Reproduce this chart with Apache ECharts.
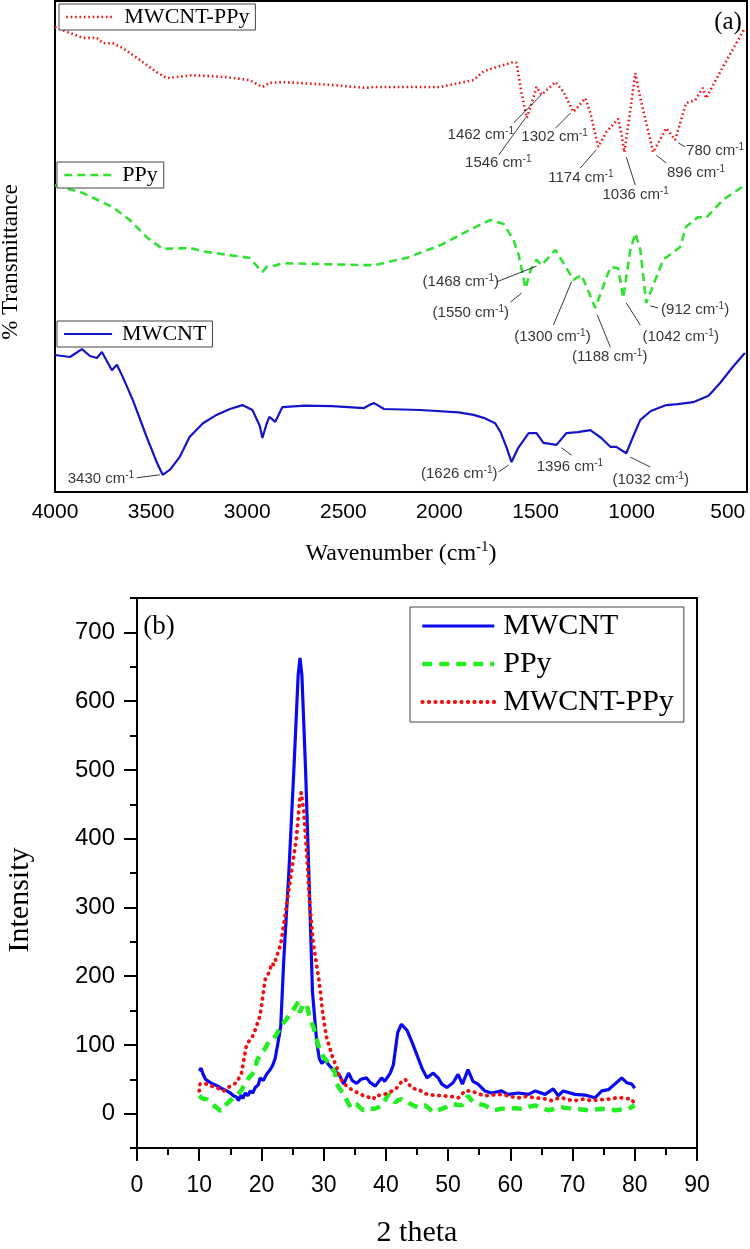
<!DOCTYPE html>
<html><head><meta charset="utf-8">
<script src="https://cdn.jsdelivr.net/npm/echarts@6/dist/echarts.min.js"></script>
<style>html,body{margin:0;padding:0;background:#fff}#c{width:750px;height:1249px}</style>
</head><body><div id="c"></div>
<script>
// ---------- (a) FTIR : [wavenumber, relative transmittance (offset, arbitrary units)] ----------
const ftirMWCNTPPy = [[4000,94.7],[3938,93.7],[3855,92.5],[3782,92.5],[3751,91.4],[3699,91.4],[3647,90.4],[3559,88.0],[3471,85.5],[3419,84.3],[3284,84.9],[3108,84.5],[2989,83.9],[2921,82.5],[2885,83.3],[2817,83.5],[2558,82.9],[2382,82.3],[2340,82.5],[1993,82.5],[1822,83.9],[1770,85.7],[1614,87.6],[1599,87.4],[1573,81.3],[1546,76.2],[1526,78.4],[1495,82.5],[1469,80.9],[1396,83.5],[1355,81.5],[1303,77.4],[1241,80.2],[1215,77.2],[1174,70.3],[1132,73.3],[1070,76.0],[1054,73.1],[1038,69.2],[1007,77.8],[981,85.3],[955,80.2],[940,77.8],[888,69.2],[820,74.1],[774,71.7],[717,79.2],[670,79.8],[629,82.3],[613,80.2],[525,86.6],[411,94.5]];
const ftirPPy = [[4000,62.5],[3855,60.9],[3699,58.0],[3611,55.4],[3523,51.9],[3440,49.5],[3300,49.7],[3212,48.9],[2989,47.7],[2921,44.8],[2900,45.8],[2849,46.2],[2817,46.6],[2382,46.2],[2340,46.2],[2169,47.7],[1993,50.3],[1822,53.8],[1734,55.4],[1666,54.6],[1614,51.3],[1588,48.3],[1552,41.5],[1526,45.2],[1495,47.3],[1469,46.2],[1396,49.3],[1303,43.2],[1261,44.2],[1189,37.5],[1111,45.8],[1070,45.6],[1044,39.5],[1007,49.3],[981,52.7],[955,49.3],[924,38.5],[836,47.3],[748,49.9],[717,54.0],[655,56.0],[613,55.8],[525,59.5],[411,62.5]];
const ftirMWCNT = [[4000,27.9],[3922,27.5],[3860,29.1],[3818,27.7],[3782,27.3],[3756,28.5],[3704,24.8],[3678,25.9],[3647,23.4],[3595,18.7],[3523,11.2],[3470,6.0],[3440,3.5],[3400,4.6],[3352,7.1],[3300,11.2],[3230,14.0],[3160,15.7],[3090,16.9],[3025,17.7],[2973,16.7],[2935,13.5],[2921,11.0],[2900,13.8],[2885,15.3],[2854,14.3],[2817,17.3],[2700,17.6],[2558,17.5],[2392,17.1],[2366,17.7],[2340,18.1],[2288,16.9],[2100,16.7],[1900,16.2],[1822,15.7],[1770,15.1],[1710,14.0],[1682,12.2],[1650,9.0],[1625,6.1],[1590,9.0],[1536,12.0],[1495,12.0],[1459,10.0],[1391,9.6],[1339,12.0],[1280,12.2],[1215,12.6],[1158,11.0],[1111,9.2],[1080,9.2],[1028,7.9],[990,11.5],[955,14.7],[900,16.5],[820,17.7],[760,17.9],[680,18.3],[600,19.6],[540,22.2],[473,25.5],[411,28.3]];
const ftirTicks = [4000,3500,3000,2500,2000,1500,1000,500];
// peak notes: text, paren, label centre [w,v], leader from [w,v] to [w,v]
const ftirNotes = [
  {t:'1462',p:false,at:[1785,72.7],a:[1614,75.2],b:[1469,80.9]},
  {t:'1546',p:false,at:[1694,67.0],a:[1692,68.6],b:[1552,76.2]},
  {t:'1302',p:false,at:[1401,72.3],a:[1396,74.1],b:[1318,77.2]},
  {t:'1174',p:false,at:[1264,64.0],a:[1267,66.0],b:[1184,69.7]},
  {t:'1036',p:false,at:[979,60.5],a:[981,62.5],b:[1028,68.2]},
  {t:'896',p:false,at:[665,65.0],a:[820,67.0],b:[872,68.6]},
  {t:'780',p:false,at:[566,69.5],a:[722,70.3],b:[758,71.1]},
  {t:'1468',p:true,at:[1889,42.8],a:[1702,42.8],b:[1495,46.0]},
  {t:'1550',p:true,at:[1837,36.5],a:[1630,38.7],b:[1573,40.5]},
  {t:'1300',p:true,at:[1412,31.6],a:[1407,34.0],b:[1313,42.8]},
  {t:'1188',p:true,at:[1114,27.5],a:[1111,29.5],b:[1178,36.0]},
  {t:'1042',p:true,at:[745,31.6],a:[955,34.0],b:[1028,38.5]},
  {t:'912',p:true,at:[670,37.1],a:[903,37.9],b:[862,37.5]},
  {t:'3430',p:false,at:[3761,2.6],a:[3575,2.9],b:[3455,3.5]},
  {t:'1626',p:true,at:[1897,3.7],a:[1692,4.1],b:[1640,5.5]},
  {t:'1396',p:false,at:[1321,5.1],a:[1313,7.5],b:[1365,9.0]},
  {t:'1032',p:true,at:[901,2.4],a:[903,5.1],b:[1007,7.1]}
];

// ---------- (b) XRD : [2theta, intensity] ----------
const xrdMWCNT = [[10,62],[10.3,66],[10.6,58],[11,50],[11.5,47],[12,44],[12.5,42],[13,40],[13.5,37],[14,35],[14.4,33],[15,30],[15.5,26],[16,24],[16.3,19],[16.7,27],[17,22],[17.4,30],[17.8,26],[18.2,33],[18.6,30],[19,38],[19.5,42],[19.8,52],[20.3,48],[20.8,57],[21.4,64],[21.8,70],[22.2,80],[22.6,100],[23.1,127],[23.6,226],[24.4,350],[25.2,498],[25.9,638],[26.2,663],[26.5,638],[27.1,498],[27.7,326],[28.2,177],[28.9,103],[29.3,80],[29.7,73],[30.2,78],[30.9,70],[31.5,64],[32.1,60],[32.6,55],[33.2,43],[34,59],[34.6,48],[35.3,44],[36,50],[36.9,52],[37.5,45],[38.3,40],[39.3,52],[39.8,47],[40.7,59],[41.2,71],[41.9,118],[42.5,130],[43.4,121],[44.2,104],[45,85],[45.8,66],[46.6,52],[47.6,59],[48.4,52],[49,43],[49.8,38],[50.8,45],[51.6,57],[52.3,43],[53.2,64],[54,47],[54.8,43],[55.9,33],[57,30],[58.6,33],[59.6,28],[61.3,30],[62.9,28],[64,33],[65.6,28],[66.9,36],[67.7,26],[68.5,33],[70.4,28],[72,27],[73.6,23],[74.7,33],[75.8,35],[76.8,43],[77.9,52],[78.7,45],[79.5,43],[80,37]];
const xrdPPy = [[10,26],[10.5,22],[11.2,21],[11.8,16],[12.3,12],[12.9,8],[13.4,4],[13.9,9],[14.4,14],[15,19],[15.6,24],[16.2,28],[16.7,33],[17.3,42],[17.8,50],[18.4,56],[18.9,62],[19.3,78],[19.8,85],[20.4,92],[20.9,100],[21.4,107],[22,109],[22.6,118],[23.1,127],[24,137],[24.8,147],[25.4,155],[25.9,162],[26.2,147],[26.7,160],[27.3,157],[27.8,138],[28.4,125],[28.9,107],[29.4,92],[30,82],[30.4,78],[31,72],[31.8,60],[32.1,43],[32.6,36],[33.2,29],[33.8,18],[34.3,9],[34.8,12],[35.3,14],[35.8,9],[36.4,5],[37.2,8],[38,7],[38.8,9],[39.3,12],[39.9,20],[40.4,28],[40.9,25],[41.5,16],[42,20],[42.5,21],[43.1,18],[43.6,16],[44.4,12],[45.2,9],[46.3,12],[47,7],[47.6,2],[48.3,5],[49,7],[49.8,10],[50.6,14],[51.4,13],[52.2,12],[52.7,18],[53.2,26],[53.7,20],[54.3,16],[55,14],[55.9,12],[56.7,8],[57.5,5],[58.5,7],[59.6,7],[60.7,8],[61.8,7],[63,10],[64,12],[65,8],[66.1,5],[67.2,7],[68.3,9],[69.3,8],[70.4,7],[71.5,6],[72.5,5],[73.6,6],[74.7,7],[75.8,6],[76.8,5],[77.9,6],[79,7],[80,12]];
const xrdMWCNTPPy = [[10,33],[10.1,43],[10.6,44],[11.2,43],[12,40],[12.8,38],[13.4,35],[13.9,33],[14.5,37],[15,40],[16,45],[16.8,59],[17.2,80],[17.6,100],[18.2,108],[18.7,114],[19.3,130],[19.8,143],[20.2,170],[20.6,195],[21.2,205],[21.7,219],[22,216],[22.5,230],[23.1,246],[24,300],[24.8,350],[25.6,400],[26,440],[26.2,460],[26.4,467],[26.8,440],[27.3,376],[27.8,300],[28.3,250],[28.7,226],[29.3,191],[29.8,150],[30.4,113],[31,95],[31.5,80],[32,70],[32.6,53],[33.2,44],[34,38],[34.8,33],[35.6,30],[36.4,26],[37.2,24],[38,21],[38.3,26],[39.3,27],[40.4,30],[41,33],[41.7,37],[42.4,45],[43.1,50],[43.6,44],[44.2,37],[45.3,35],[46.3,29],[47.5,27],[49,26],[50.5,25],[51.7,23],[52.7,33],[53.8,33],[54.8,29],[55.9,26],[57,27],[58.6,28],[60,25],[61.3,23],[62.5,25],[64,23],[65.3,22],[66.6,19],[67.5,22],[68.3,23],[69.3,20],[70.4,19],[71.7,21],[73,19],[74.3,20],[75.8,21],[77,23],[77.9,23],[78.8,22],[79.5,21],[80,14]];
const xrdYTicks = [0,100,200,300,400,500,600,700];
const xrdYMinorTicks = [-50,50,150,250,350,450,550,650,750];

const SERIF = '"Liberation Serif","Times New Roman",serif';
const SANS = '"Liberation Sans",Arial,sans-serif';
const C_A = {blue:'#1515c8', green:'#33e033', red:'#e81818'};
const C_B = {blue:'#0a0af0', green:'#22ee22', red:'#ee1111'};

const styleA = {
  'MWCNT-PPy': {color:C_A.red, width:2.6, type:[1.6,2.8]},
  'PPy': {color:C_A.green, width:2.6, type:[8,5]},
  'MWCNT': {color:C_A.blue, width:2.2}
};
const styleB = {
  'MWCNT': {color:C_B.blue, width:3.2, type:'solid'},
  'PPy': {color:C_B.green, width:4.5, type:[10,7]},
  'MWCNT-PPy': {color:C_B.red, width:3.8, type:[0.5,6], cap:'round'}
};
const HIDDEN_SYMBOL = {color:'rgba(0,0,0,0)', borderColor:'rgba(0,0,0,0)', borderWidth:0, opacity:0};

const noteRich = {
  n:{fontSize:15, fontFamily:SANS, color:'#000', lineHeight:18},
  s:{fontSize:10, fontFamily:SANS, color:'#000', lineHeight:10, verticalAlign:'top'}
};
function noteText(n){ return n.p ? '{n|(' + n.t + ' cm}{s|-1}{n|)}' : '{n|' + n.t + ' cm}{s|-1}'; }

const chart = echarts.init(document.getElementById('c'), null, {renderer:'canvas'});

function lineSeries(name, data, st, xi, yi){
  return {type:'line', name, data, xAxisIndex:xi, yAxisIndex:yi, symbol:'none', silent:true, animation:false,
    lineStyle:{color:st.color, width:st.width, type:st.type||'solid', cap:st.cap||'butt'}, itemStyle:{color:st.color}, z:3};
}
function legendA(name, left, top){
  const st = styleA[name];
  return {show:true, left, top, orient:'horizontal', selectedMode:false,
    data:[{name, lineStyle:{color:st.color,width:st.width,type:st.type||'solid'}, itemStyle:HIDDEN_SYMBOL}],
    itemWidth:48, itemHeight:14, padding:[1,6,1,6], borderColor:'#444', borderWidth:1, backgroundColor:'#fff',
    textStyle:{fontFamily:SERIF, fontSize:22, color:'#000', padding:[0,0,0,5], lineHeight:24}};
}

const option = {
  animation:false,
  backgroundColor:'#fff',
  grid:[
    {left:55, top:1, width:692, height:491, show:true, borderColor:'#000', borderWidth:2, containLabel:false},
    {left:137, top:598, width:560, height:560, show:true, borderColor:'#000', borderWidth:2, containLabel:false}
  ],
  xAxis:[
    {gridIndex:0, type:'value', inverse:true, min:400, max:4000, interval:100,
      axisLine:{show:false}, axisTick:{show:false}, splitLine:{show:false},
      axisLabel:{formatter:v=>ftirTicks.includes(v)?String(v):'', fontFamily:SANS, fontSize:21, color:'#000', margin:10},
      name:'{n|Wavenumber (cm}{s|-1}{n|)}', nameLocation:'middle', nameGap:48,
      nameTextStyle:{rich:{n:{fontFamily:SERIF, fontSize:24, color:'#000', lineHeight:28}, s:{fontFamily:SERIF, fontSize:15, color:'#000', lineHeight:15, verticalAlign:'top'}}}},
    {gridIndex:1, type:'value', min:0, max:90, interval:10,
      axisLine:{show:true, onZero:false, lineStyle:{color:'#000', width:2}},
      axisTick:{show:true, length:13, lineStyle:{color:'#000', width:2}},
      minorTick:{show:true, splitNumber:2, length:7, lineStyle:{color:'#000', width:2}},
      splitLine:{show:false}, minorSplitLine:{show:false},
      axisLabel:{fontFamily:SANS, fontSize:23, color:'#000', margin:26},
      name:'2 theta', nameLocation:'middle', nameGap:70,
      nameTextStyle:{fontFamily:SERIF, fontSize:30, color:'#000'}}
  ],
  yAxis:[
    {gridIndex:0, type:'value', min:0, max:100, show:false},
    {gridIndex:1, type:'value', min:-50, max:750, position:'left',
      axisLine:{show:true, onZero:false, lineStyle:{color:'#000', width:2}},
      axisTick:{show:true, length:13, customValues:xrdYTicks, lineStyle:{color:'#000', width:2}},
      axisLabel:{show:true, customValues:xrdYTicks, fontFamily:SANS, fontSize:24, color:'#000', margin:22},
      splitLine:{show:false}},
    {gridIndex:1, type:'value', min:-50, max:750, position:'left',
      axisLine:{show:true, onZero:false, lineStyle:{color:'#000', width:2}},
      axisTick:{show:true, length:7, customValues:xrdYMinorTicks, lineStyle:{color:'#000', width:2}},
      axisLabel:{show:false}, splitLine:{show:false}}
  ],
  legend:[
    legendA('MWCNT-PPy', 59, 4),
    legendA('PPy', 57, 162),
    legendA('MWCNT', 57, 321),
    {show:true, left:410, top:607, orient:'vertical', selectedMode:false,
      data:['MWCNT','PPy','MWCNT-PPy'].map(n=>({name:n, lineStyle:{color:styleB[n].color, width:styleB[n].width, type:styleB[n].type, cap:styleB[n].cap||'butt'}, itemStyle:HIDDEN_SYMBOL})),
      itemWidth:72, itemHeight:14, itemGap:8, padding:[4,10,5,10], borderColor:'#444', borderWidth:1, backgroundColor:'#fff',
      textStyle:{fontFamily:SERIF, fontSize:30, color:'#000', lineHeight:30, padding:[0,0,0,4]}}
  ],
  graphic:[
    {type:'text', x:11, y:262, rotation:Math.PI/2, silent:true, style:{text:'% Transmittance', fontFamily:SERIF, fontSize:23, fill:'#000', align:'center', verticalAlign:'middle'}},
    {type:'text', x:20, y:900, rotation:Math.PI/2, silent:true, style:{text:'Intensity', fontFamily:SERIF, fontSize:30, fill:'#000', align:'center', verticalAlign:'middle'}},
    {type:'text', x:728, y:22, silent:true, style:{text:'(a)', fontFamily:SERIF, fontSize:25, fill:'#000', align:'center', verticalAlign:'middle'}},
    {type:'text', x:159, y:627, silent:true, style:{text:'(b)', fontFamily:SERIF, fontSize:27, fill:'#000', align:'center', verticalAlign:'middle'}}
  ],
  series:[
    lineSeries('MWCNT-PPy', ftirMWCNTPPy, styleA['MWCNT-PPy'], 0, 0),
    lineSeries('PPy', ftirPPy, styleA['PPy'], 0, 0),
    lineSeries('MWCNT', ftirMWCNT, styleA['MWCNT'], 0, 0),
    {type:'lines', coordinateSystem:'cartesian2d', xAxisIndex:0, yAxisIndex:0, silent:true, z:4,
      lineStyle:{color:'#222', width:0.9, opacity:1, curveness:0},
      data:ftirNotes.map(n=>({coords:[n.a, n.b]}))},
    {type:'scatter', xAxisIndex:0, yAxisIndex:0, silent:true, symbolSize:1, z:5,
      itemStyle:{color:'rgba(0,0,0,0)'},
      label:{show:true, position:'inside', rich:noteRich},
      data:ftirNotes.map(n=>({value:n.at, label:{formatter:noteText(n)}}))},
    lineSeries('MWCNT', xrdMWCNT, styleB['MWCNT'], 1, 1),
    lineSeries('PPy', xrdPPy, styleB['PPy'], 1, 1),
    lineSeries('MWCNT-PPy', xrdMWCNTPPy, styleB['MWCNT-PPy'], 1, 1)
  ]
};
chart.setOption(option);
</script>
</body></html>
